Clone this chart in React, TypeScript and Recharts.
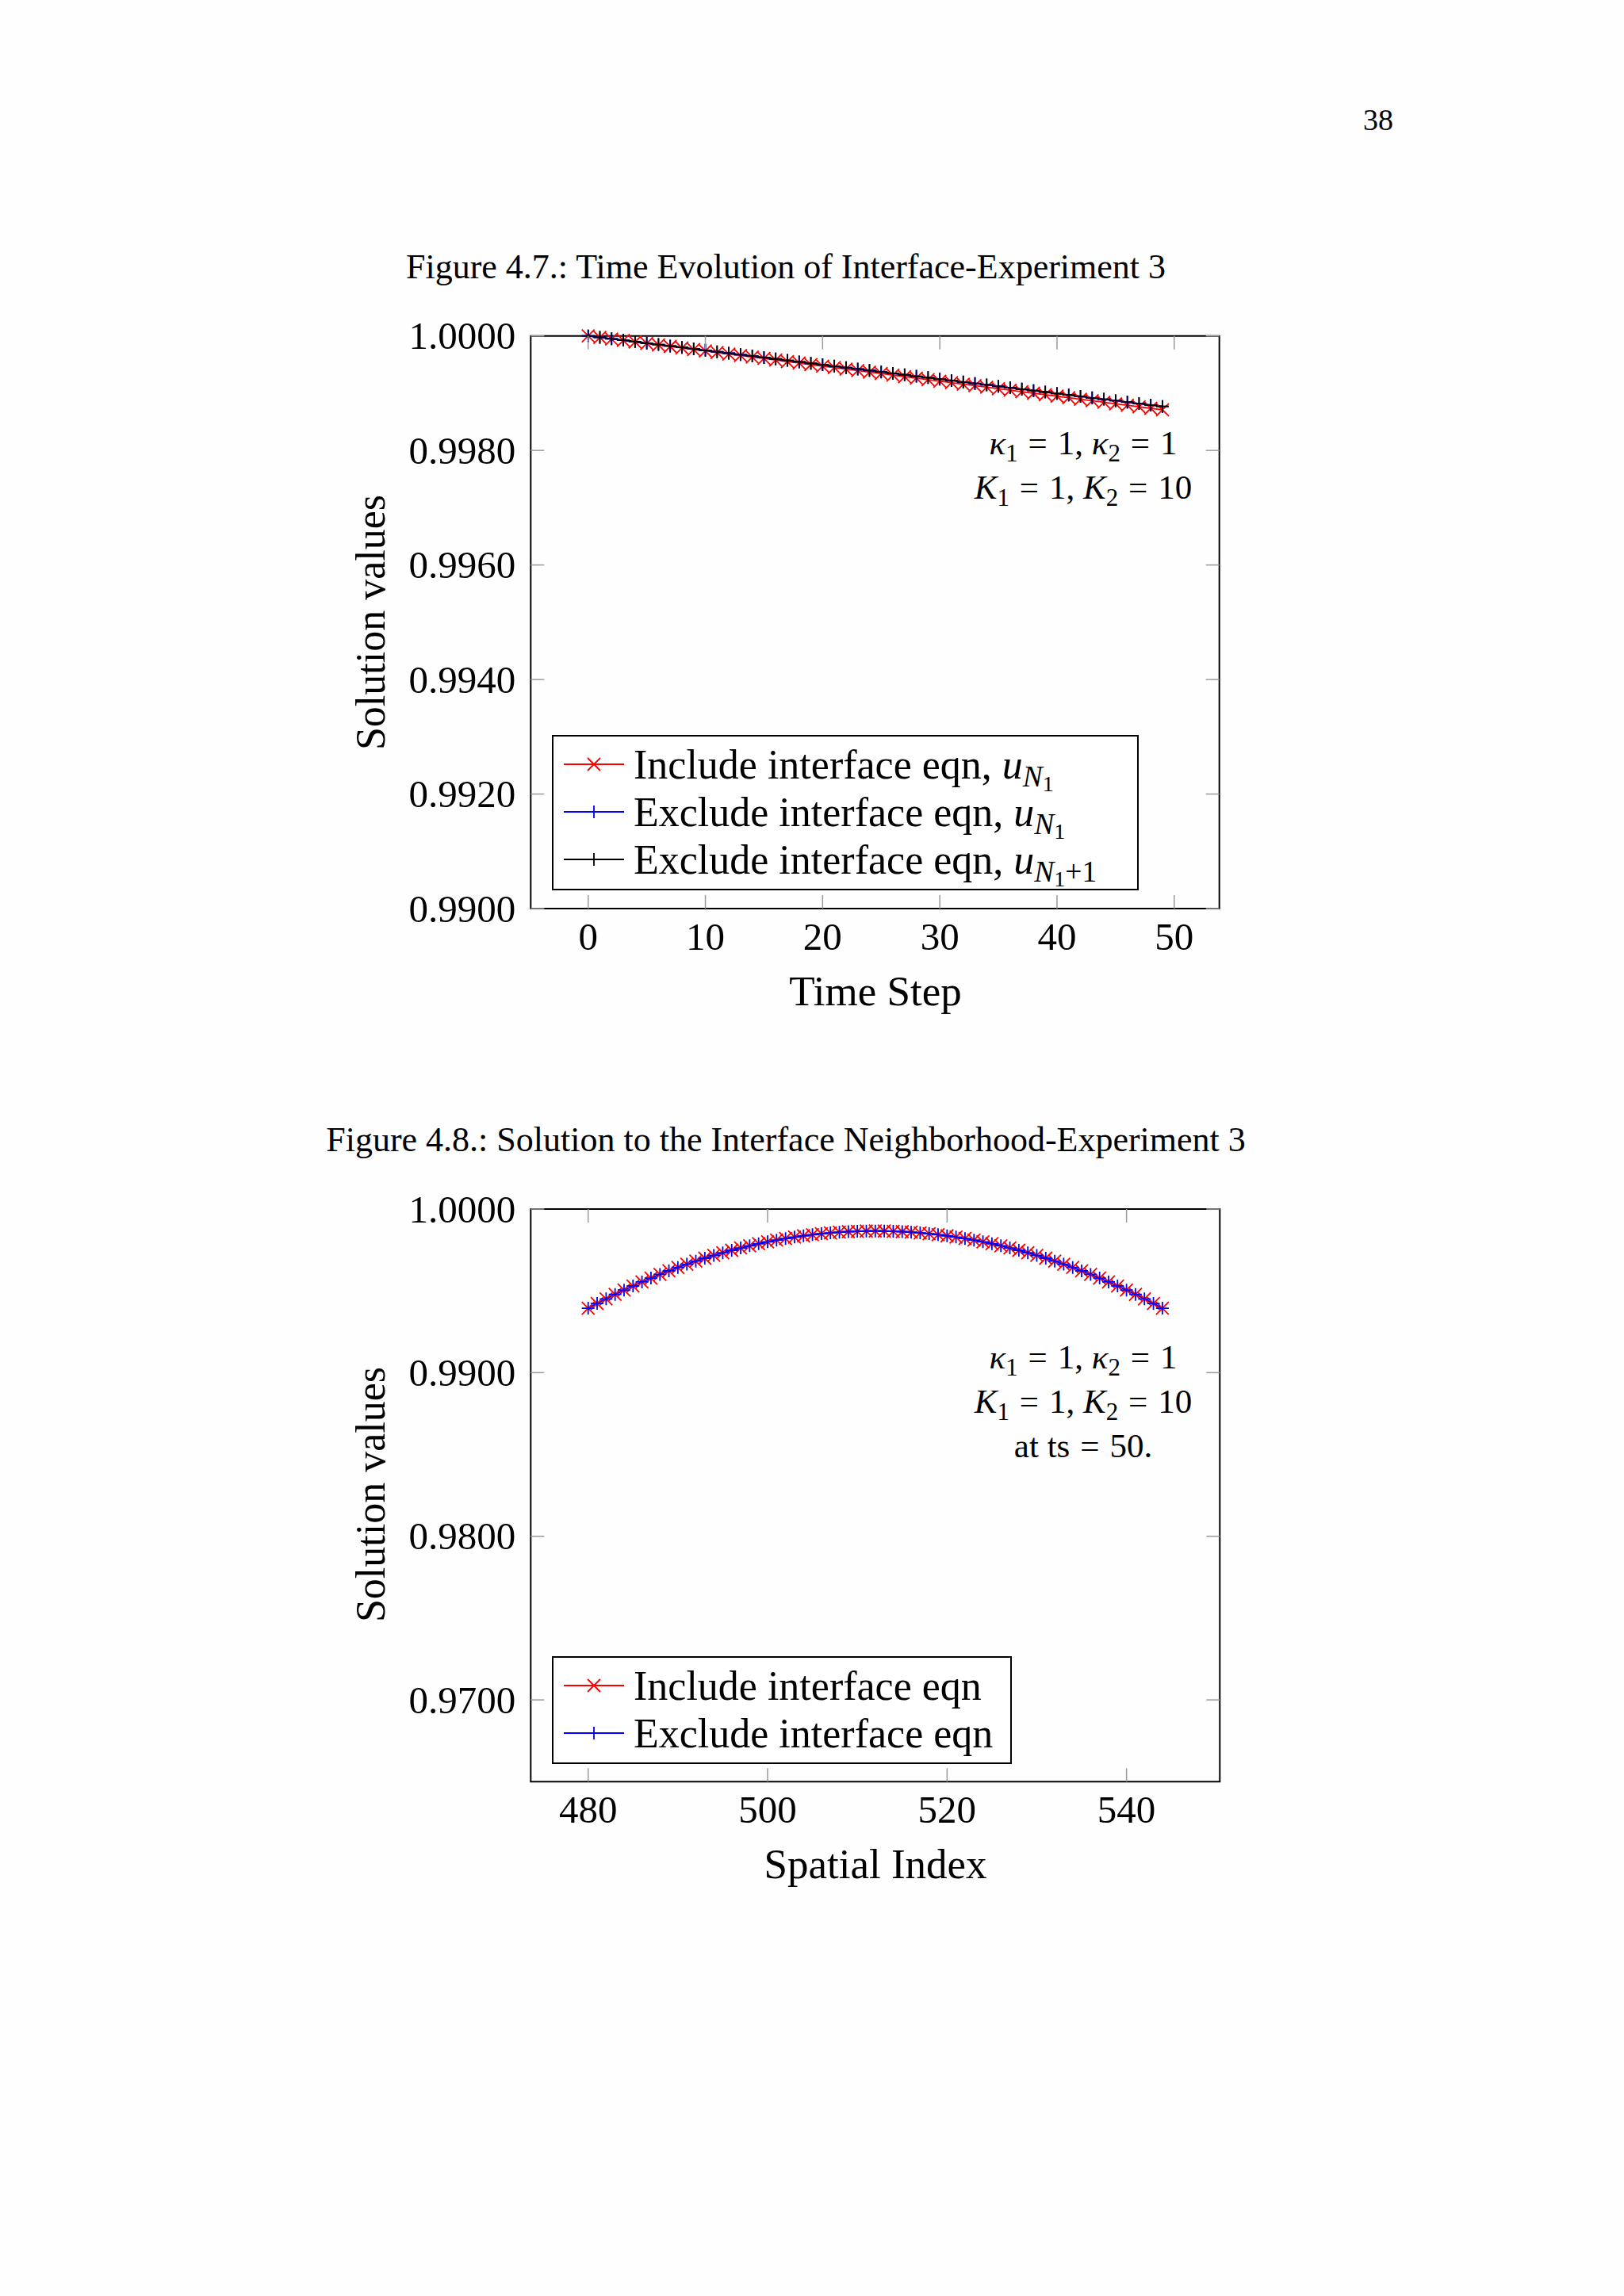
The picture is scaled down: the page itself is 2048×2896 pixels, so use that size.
import React from "react";
import { LineChart, Line, XAxis, YAxis, ReferenceArea } from "recharts";

const SERIF = "'Liberation Serif', 'Times New Roman', serif";

// Figure 4.7 - time evolution at the interface
const timeSteps = [
  0, 1, 2, 3, 4, 5, 6, 7, 8, 9, 10, 11, 12, 13, 14, 15, 16, 17, 18, 19, 20, 21, 22, 23, 24,
  25, 26, 27, 28, 29, 30, 31, 32, 33, 34, 35, 36, 37, 38, 39, 40, 41, 42, 43, 44, 45, 46, 47, 48, 49,
];
const includeUN1 = [
  1.0, 0.999974, 0.999947, 0.999921, 0.999895, 0.999868, 0.999842, 0.999816, 0.999789, 0.999763,
  0.999737, 0.99971, 0.999684, 0.999658, 0.999631, 0.999605, 0.999579, 0.999552, 0.999526, 0.9995,
  0.999473, 0.999447, 0.999421, 0.999394, 0.999368, 0.999342, 0.999315, 0.999289, 0.999263, 0.999236,
  0.99921, 0.999184, 0.999157, 0.999131, 0.999105, 0.999078, 0.999052, 0.999026, 0.998999, 0.998973,
  0.998947, 0.99892, 0.998894, 0.998868, 0.998841, 0.998815, 0.998789, 0.998762, 0.998736, 0.99871,
];
const excludeUN1 = [
  1.0, 0.999975, 0.99995, 0.999925, 0.999899, 0.999874, 0.999849, 0.999824, 0.999799, 0.999774,
  0.999749, 0.999723, 0.999698, 0.999673, 0.999648, 0.999623, 0.999598, 0.999573, 0.999547, 0.999522,
  0.999497, 0.999472, 0.999447, 0.999422, 0.999397, 0.999371, 0.999346, 0.999321, 0.999296, 0.999271,
  0.999246, 0.999221, 0.999195, 0.99917, 0.999145, 0.99912, 0.999095, 0.99907, 0.999045, 0.99902,
  0.998994, 0.998969, 0.998944, 0.998919, 0.998894, 0.998869, 0.998844, 0.998818, 0.998793, 0.998768,
];
const excludeUN1p1 = [
  1.0, 0.999975, 0.99995, 0.999925, 0.999899, 0.999874, 0.999849, 0.999824, 0.999799, 0.999774,
  0.999749, 0.999723, 0.999698, 0.999673, 0.999648, 0.999623, 0.999598, 0.999573, 0.999547, 0.999522,
  0.999497, 0.999472, 0.999447, 0.999422, 0.999397, 0.999371, 0.999346, 0.999321, 0.999296, 0.999271,
  0.999246, 0.999221, 0.999195, 0.99917, 0.999145, 0.99912, 0.999095, 0.99907, 0.999045, 0.99902,
  0.998994, 0.998969, 0.998944, 0.998919, 0.998894, 0.998869, 0.998844, 0.998818, 0.998793, 0.998768,
];
const timeXTicks = [0, 10, 20, 30, 40, 50];
const timeYTicks = [0.99, 0.992, 0.994, 0.996, 0.998, 1.0];

// Figure 4.8 - neighborhood of the interface at ts = 50
const spatialIndex = [
  480, 481, 482, 483, 484, 485, 486, 487, 488, 489, 490, 491, 492, 493, 494, 495, 496, 497, 498,
  499, 500, 501, 502, 503, 504, 505, 506, 507, 508, 509, 510, 511, 512, 513, 514, 515, 516, 517,
  518, 519, 520, 521, 522, 523, 524, 525, 526, 527, 528, 529, 530, 531, 532, 533, 534, 535, 536,
  537, 538, 539, 540, 541, 542, 543, 544,
];
const spatialInclude = [
  0.993939, 0.99423, 0.994511, 0.994783, 0.995046, 0.995299, 0.995544, 0.995779, 0.996005, 0.996221,
  0.996429, 0.996627, 0.996816, 0.996996, 0.997166, 0.997328, 0.99748, 0.997623, 0.997756, 0.997881,
  0.997996, 0.998102, 0.998199, 0.998287, 0.998365, 0.998434, 0.998494, 0.998545, 0.998586, 0.998619,
  0.998642, 0.998655, 0.99866, 0.998655, 0.998642, 0.998619, 0.998586, 0.998545, 0.998494, 0.998434,
  0.998365, 0.998287, 0.998199, 0.998102, 0.997996, 0.997881, 0.997756, 0.997623, 0.99748, 0.997328,
  0.997166, 0.996996, 0.996816, 0.996627, 0.996429, 0.996221, 0.996005, 0.995779, 0.995544, 0.995299,
  0.995046, 0.994783, 0.994511, 0.99423, 0.993939,
];
const spatialExclude = [
  0.993939, 0.99423, 0.994511, 0.994783, 0.995046, 0.995299, 0.995544, 0.995779, 0.996005, 0.996221,
  0.996429, 0.996627, 0.996816, 0.996996, 0.997166, 0.997328, 0.99748, 0.997623, 0.997756, 0.997881,
  0.997996, 0.998102, 0.998199, 0.998287, 0.998365, 0.998434, 0.998494, 0.998545, 0.998586, 0.998619,
  0.998642, 0.998655, 0.99866, 0.998655, 0.998642, 0.998619, 0.998586, 0.998545, 0.998494, 0.998434,
  0.998365, 0.998287, 0.998199, 0.998102, 0.997996, 0.997881, 0.997756, 0.997623, 0.99748, 0.997328,
  0.997166, 0.996996, 0.996816, 0.996627, 0.996429, 0.996221, 0.996005, 0.995779, 0.995544, 0.995299,
  0.995046, 0.994783, 0.994511, 0.99423, 0.993939,
];
const spatialXTicks = [480, 500, 520, 540];
const spatialYTicks = [0.97, 0.98, 0.99, 1.0];

const RED = "#ff0000";
const BLUE = "#0000ff";
const BLACK = "#000000";
const TICK_GRAY = "#9a9a9a";

const PLOT_H = 722.3;
const TICK_LEN = 17;

type Mark = "x" | "+";

const markPath = (mark: Mark, cx: number, cy: number, r = 8) =>
  mark === "x"
    ? `M${cx - r} ${cy - r}L${cx + r} ${cy + r}M${cx - r} ${cy + r}L${cx + r} ${cy - r}`
    : `M${cx - r} ${cy}L${cx + r} ${cy}M${cx} ${cy - r}L${cx} ${cy + r}`;

const markDot = (mark: Mark, color: string) => (p: any) => (
  <path
    key={`m-${p.index}`}
    d={markPath(mark, p.cx, p.cy)}
    stroke={color}
    strokeWidth={1.8}
    fill="none"
  />
);

const xTick = (plotH: number) => (p: any) => {
  const { x, y, payload } = p;
  return (
    <g>
      <line x1={x} y1={y} x2={x} y2={y - TICK_LEN} stroke={TICK_GRAY} strokeWidth={1.5} />
      <line x1={x} y1={y - plotH} x2={x} y2={y - plotH + TICK_LEN} stroke={TICK_GRAY} strokeWidth={1.5} />
      <text x={x} y={y + 35} textAnchor="middle" dominantBaseline="central" fontSize={49} fontFamily={SERIF} fill="#000">
        {payload.value}
      </text>
    </g>
  );
};

const yTick = (plotW: number) => (p: any) => {
  const { x, y, payload } = p;
  return (
    <g>
      <line x1={x} y1={y} x2={x + TICK_LEN} y2={y} stroke={TICK_GRAY} strokeWidth={1.5} />
      <line x1={x + plotW} y1={y} x2={x + plotW - TICK_LEN} y2={y} stroke={TICK_GRAY} strokeWidth={1.5} />
      <text x={x - 19} y={y} textAnchor="end" dominantBaseline="central" fontSize={49} fontFamily={SERIF} fill="#000">
        {Number(payload.value).toFixed(4)}
      </text>
    </g>
  );
};

const Sub = ({ children }: { children: React.ReactNode }) => (
  <span style={{ fontSize: "0.72em", position: "relative", top: "0.28em" }}>{children}</span>
);

const UN1 = ({ plusOne }: { plusOne?: boolean }) => (
  <span>
    <i>u</i>
    <Sub>
      <i>N</i>
      <span style={{ fontSize: "0.75em", position: "relative", top: "0.2em" }}>1</span>
      {plusOne ? "+1" : null}
    </Sub>
  </span>
);

const Eq = () => <span style={{ margin: "0 0.3em" }}>=</span>;

const LegendBox = ({
  left,
  top,
  width,
  rows,
}: {
  left: number;
  top: number;
  width: number;
  rows: { color: string; mark: Mark; label: React.ReactNode }[];
}) => (
  <div
    style={{
      position: "absolute",
      left,
      top,
      width,
      height: rows.length * 60 + 16,
      border: "2px solid #000",
      boxSizing: "border-box",
      background: "#fff",
    }}
  >
    {rows.map((r, i) => (
      <div
        key={i}
        style={{
          position: "absolute",
          left: 13,
          top: 5 + i * 60,
          height: 60,
          display: "flex",
          alignItems: "center",
          whiteSpace: "nowrap",
          fontSize: 52,
          fontFamily: SERIF,
        }}
      >
        <svg width={78} height={30} style={{ marginRight: 10 }}>
          <line x1={0} y1={15} x2={76} y2={15} stroke={r.color} strokeWidth={1.8} />
          <path d={markPath(r.mark, 38, 15)} stroke={r.color} strokeWidth={1.8} fill="none" />
        </svg>
        <span>{r.label}</span>
      </div>
    ))}
  </div>
);

type SeriesDef = { key: string; color: string; mark: Mark };

const PgfPlot = ({
  left,
  top,
  data,
  xKey,
  series,
  xDomain,
  yDomain,
  xTicks,
  yTicks,
  plotTop,
  plotRight,
}: {
  left: number;
  top: number;
  data: any[];
  xKey: string;
  series: SeriesDef[];
  xDomain: [number, number];
  yDomain: [number, number];
  xTicks: number[];
  yTicks: number[];
  plotTop: number;
  plotRight: number;
}) => {
  const width = 1200;
  const height = 840;
  const plotLeft = 269.3;
  const plotW = width - plotLeft - plotRight;
  return (
    <div style={{ position: "absolute", left, top }}>
      <LineChart
        width={width}
        height={height}
        data={data}
        margin={{ top: plotTop, right: plotRight, left: plotLeft - 100, bottom: 0 }}
      >
        <XAxis
          type="number"
          dataKey={xKey}
          domain={xDomain}
          ticks={xTicks}
          interval={0}
          tickSize={0}
          tickMargin={0}
          axisLine={false}
          tickLine={false}
          height={height - plotTop - PLOT_H}
          tick={xTick(PLOT_H)}
        />
        <YAxis
          type="number"
          domain={yDomain}
          ticks={yTicks}
          interval={0}
          width={100}
          tickSize={0}
          tickMargin={0}
          axisLine={false}
          tickLine={false}
          tick={yTick(plotW)}
        />
        <ReferenceArea
          x1={xDomain[0]}
          x2={xDomain[1]}
          y1={yDomain[0]}
          y2={yDomain[1]}
          fill="none"
          stroke="#000"
          strokeWidth={2}
        />
        {series.map((s) => (
          <Line
            key={s.key}
            type="linear"
            dataKey={s.key}
            stroke={s.color}
            strokeWidth={1.8}
            dot={markDot(s.mark, s.color)}
            activeDot={false}
            isAnimationActive={false}
          />
        ))}
      </LineChart>
    </div>
  );
};

const timeRows = timeSteps.map((t, i) => ({
  t,
  include: includeUN1[i],
  exclude: excludeUN1[i],
  excludeNext: excludeUN1p1[i],
}));

const spatialRows = spatialIndex.map((s, i) => ({
  s,
  include: spatialInclude[i],
  exclude: spatialExclude[i],
}));

const textAt = (cx: number, cy: number, size: number, extra: React.CSSProperties = {}) =>
  ({
    position: "absolute",
    left: cx,
    top: cy,
    transform: "translate(-50%, -50%)",
    whiteSpace: "nowrap",
    fontSize: size,
    fontFamily: SERIF,
    color: "#000",
    ...extra,
  }) as React.CSSProperties;

const Annot = ({ top, lines }: { top: number; lines: React.ReactNode[] }) => (
  <div
    style={{
      position: "absolute",
      left: 1166,
      top,
      width: 400,
      textAlign: "center",
      fontSize: 43,
      lineHeight: "52px",
      fontFamily: SERIF,
    }}
  >
    {lines.map((l, i) => (
      <div key={i}>{l}</div>
    ))}
  </div>
);

const kappaLine = (
  <span>
    <i>κ</i>
    <Sub>1</Sub>
    <Eq />1, <i>κ</i>
    <Sub>2</Sub>
    <Eq />1
  </span>
);
const bigKLine = (
  <span>
    <i>K</i>
    <Sub>1</Sub>
    <Eq />1, <i>K</i>
    <Sub>2</Sub>
    <Eq />10
  </span>
);

export default function App() {
  return (
    <div
      style={{
        position: "absolute",
        left: 0,
        top: 0,
        width: 2048,
        height: 2896,
        background: "#fefefe",
        overflow: "hidden",
      }}
    >
      <div style={textAt(1738, 151, 38)}>38</div>

      <div style={textAt(991, 336, 44)}>Figure 4.7.: Time Evolution of Interface-Experiment 3</div>
      <PgfPlot
        left={400}
        top={380}
        data={timeRows}
        xKey="t"
        series={[
          { key: "include", color: RED, mark: "x" },
          { key: "exclude", color: BLUE, mark: "+" },
          { key: "excludeNext", color: BLACK, mark: "+" },
        ]}
        xDomain={[-4.9, 53.85]}
        yDomain={[0.99, 1.0]}
        xTicks={timeXTicks}
        yTicks={timeYTicks}
        plotTop={43.7}
        plotRight={62.3}
      />
      <Annot top={533} lines={[kappaLine, bigKLine]} />
      <LegendBox
        left={696}
        top={927}
        width={740}
        rows={[
          { color: RED, mark: "x", label: <>Include interface eqn, <UN1 /></> },
          { color: BLUE, mark: "+", label: <>Exclude interface eqn, <UN1 /></> },
          { color: BLACK, mark: "+", label: <>Exclude interface eqn, <UN1 plusOne /></> },
        ]}
      />
      <div style={textAt(467, 785, 52, { transform: "translate(-50%, -50%) rotate(-90deg)" })}>Solution values</div>
      <div style={textAt(1104, 1250, 53)}>Time Step</div>

      <div style={textAt(991, 1437, 44)}>Figure 4.8.: Solution to the Interface Neighborhood-Experiment 3</div>
      <PgfPlot
        left={400}
        top={1480}
        data={spatialRows}
        xKey="s"
        series={[
          { key: "include", color: RED, mark: "x" },
          { key: "exclude", color: BLUE, mark: "+" },
        ]}
        xDomain={[473.6, 550.4]}
        yDomain={[0.965, 1.0]}
        xTicks={spatialXTicks}
        yTicks={spatialYTicks}
        plotTop={45}
        plotRight={61.7}
      />
      <Annot top={1686} lines={[kappaLine, bigKLine, <span>at ts<Eq />50.</span>]} />
      <LegendBox
        left={696}
        top={2089}
        width={580}
        rows={[
          { color: RED, mark: "x", label: "Include interface eqn" },
          { color: BLUE, mark: "+", label: "Exclude interface eqn" },
        ]}
      />
      <div style={textAt(467, 1885, 52, { transform: "translate(-50%, -50%) rotate(-90deg)" })}>Solution values</div>
      <div style={textAt(1104, 2351, 53)}>Spatial Index</div>
    </div>
  );
}
